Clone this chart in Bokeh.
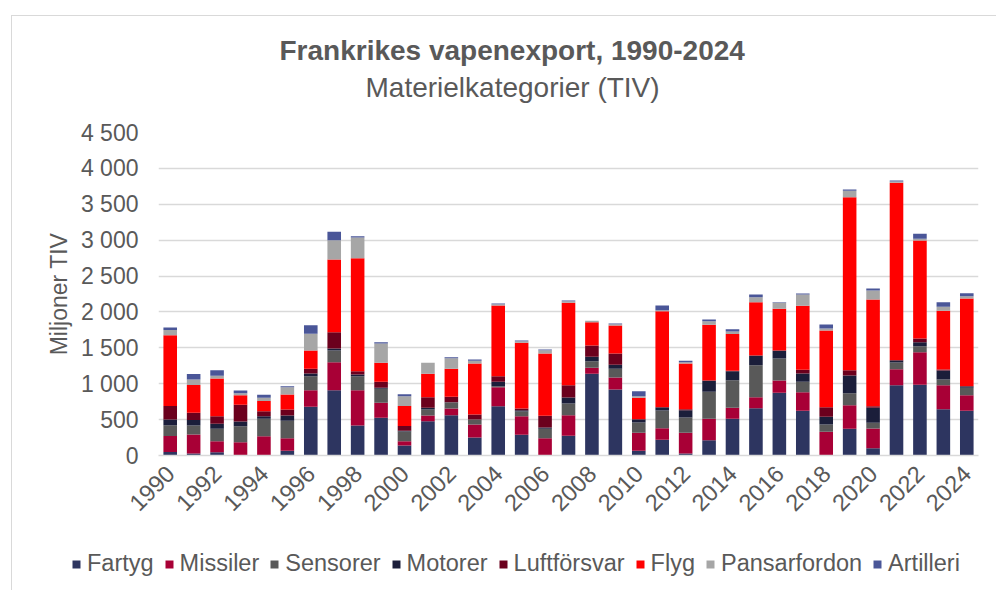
from bokeh.plotting import figure
from bokeh.layouts import column
from bokeh.models import ColumnDataSource, Legend, LegendItem, FixedTicker, Range1d, Title
from bokeh.embed import file_html
from bokeh.resources import INLINE
import math

years = list(range(1990, 2025))
fartyg = [50, 28, 46, 0, 0, 65, 678, 910, 418, 525, 139, 478, 561, 251, 687, 288, 0, 274, 1138, 919,
          65, 219, 28, 213, 511, 659, 873, 622, 0, 372, 102, 980, 984, 645, 622]
missiler = [220, 265, 154, 186, 269, 176, 232, 390, 492, 209, 61, 79, 94, 181, 264, 260, 241, 287, 84, 168,
            251, 162, 288, 298, 153, 153, 172, 260, 330, 329, 274, 223, 455, 335, 218]
sensorer = [150, 126, 172, 223, 242, 242, 195, 163, 195, 195, 135, 84, 83, 69, 14, 65, 131, 163, 92, 121,
            144, 246, 213, 376, 385, 446, 306, 145, 102, 167, 79, 93, 84, 79, 103]
motorer = [80, 74, 69, 65, 37, 74, 37, 28, 23, 14, 10, 23, 5, 0, 62, 18, 18, 84, 61, 55,
           46, 46, 102, 158, 126, 135, 112, 115, 107, 246, 209, 32, 55, 125, 22]
luftforsvar = [190, 102, 107, 232, 69, 84, 66, 227, 47, 84, 65, 148, 74, 70, 78, 24, 163, 172, 157, 158,
               0, 0, 14, 0, 5, 0, 0, 52, 134, 75, 23, 0, 52, 14, 0]
flyg = [985, 386, 525, 134, 144, 209, 255, 1012, 1574, 264, 278, 326, 391, 711, 985, 915, 868, 1147, 325, 390,
        297, 1338, 637, 776, 511, 743, 580, 891, 1068, 2409, 1486, 2471, 1365, 818, 1222]
pansarfordon = [75, 79, 37, 28, 42, 101, 232, 269, 288, 269, 139, 153, 147, 37, 18, 22, 46, 23, 19, 18,
                23, 13, 18, 50, 37, 69, 84, 158, 28, 89, 125, 18, 23, 55, 32]
artilleri = [33, 74, 79, 37, 42, 14, 120, 117, 18, 18, 28, 0, 15, 18, 9, 10, 9, 9, 0, 10,
             70, 66, 19, 23, 32, 38, 9, 14, 56, 18, 28, 14, 70, 65, 42]

series_names = ["Fartyg", "Missiler", "Sensorer", "Motorer", "Luftförsvar", "Flyg", "Pansarfordon", "Artilleri"]
series_keys = ["fartyg", "missiler", "sensorer", "motorer", "luftforsvar", "flyg", "pansarfordon", "artilleri"]
colors = ["#2d3560", "#a80036", "#595959", "#1b1e3a", "#6b001d", "#ff0000", "#a6a6a6", "#4a5698"]

y_ticks = [0, 500, 1000, 1500, 2000, 2500, 3000, 3500, 4000, 4500]
y_tick_labels = ["0", "500", "1 000", "1 500", "2 000", "2 500", "3 000", "3 500", "4 000", "4 500"]
x_ticks = list(range(1990, 2025, 2))

title_text = "Frankrikes vapenexport, 1990-2024"
subtitle_text = "Materielkategorier (TIV)"
y_title = "Miljoner TIV"

FONT = "Liberation Sans"
TXT = "#595959"

source = ColumnDataSource(dict(
    year=years, fartyg=fartyg, missiler=missiler, sensorer=sensorer, motorer=motorer,
    luftforsvar=luftforsvar, flyg=flyg, pansarfordon=pansarfordon, artilleri=artilleri))

p = figure(width=984, height=520, output_backend="svg", toolbar_location=None,
           x_range=Range1d(1989.5, 2024.5), y_range=Range1d(0, 4500),
           min_border_left=146, min_border_right=18, min_border_top=116, min_border_bottom=81)
p.frame_align = False
p.outline_line_color = None
p.background_fill_color = "white"
p.border_fill_color = "white"

renderers = p.vbar_stack(series_keys, x="year", width=0.58, source=source,
                         color=colors, line_color=None)

# axes
p.xaxis.ticker = FixedTicker(ticks=x_ticks)
p.xaxis.major_label_orientation = math.pi / 4
p.xaxis.major_tick_line_color = None
p.xaxis.major_tick_out = 0
p.xaxis.minor_tick_line_color = None
p.xaxis.minor_tick_out = 0
p.xaxis.axis_line_color = "#d9d9d9"
p.xaxis.axis_line_width = 1.5
p.xaxis.major_label_text_font = FONT
p.xaxis.major_label_text_font_size = "23.5px"
p.xaxis.major_label_text_color = TXT
p.xaxis.major_label_standoff = 14

p.yaxis.ticker = FixedTicker(ticks=y_ticks)
p.yaxis.major_label_overrides = {t: l for t, l in zip(y_ticks, y_tick_labels)}
p.yaxis.major_tick_line_color = None
p.yaxis.major_tick_out = 0
p.yaxis.minor_tick_line_color = None
p.yaxis.minor_tick_out = 0
p.yaxis.axis_line_color = None
p.yaxis.major_label_text_font = FONT
p.yaxis.major_label_text_font_size = "23px"
p.yaxis.major_label_text_color = TXT
p.yaxis.major_label_standoff = 20
p.yaxis.axis_label = y_title
p.yaxis.axis_label_text_font = FONT
p.yaxis.axis_label_text_font_size = "23px"
p.yaxis.axis_label_text_font_style = "normal"
p.yaxis.axis_label_text_color = TXT
p.yaxis.axis_label_standoff = 6

p.xgrid.grid_line_color = None
p.ygrid.grid_line_color = "#d9d9d9"
p.ygrid.grid_line_width = 1.5

# titles (added nearest-to-frame first): spacer, subtitle, main title
p.add_layout(Title(text=" ", align="left", standoff=15, text_font=FONT,
                   text_font_size="10px", text_color="white"), "above")
p.add_layout(Title(text=subtitle_text, align="left", offset=207, standoff=4,
                   text_font=FONT, text_font_size="28px", text_font_style="normal",
                   text_color=TXT), "above")
p.add_layout(Title(text=title_text, align="left", offset=121, standoff=4,
                   text_font=FONT, text_font_size="28px", text_font_style="bold",
                   text_color=TXT), "above")

# legend strip (separate figure so the legend is not clipped)
pl = figure(width=984, height=54, output_backend="svg", toolbar_location=None,
            x_range=Range1d(0, 984), y_range=Range1d(0, 54),
            x_axis_type=None, y_axis_type=None,
            min_border_left=0, min_border_right=0, min_border_top=0, min_border_bottom=0)
pl.frame_align = False
pl.outline_line_color = None
pl.grid.visible = False
pl.background_fill_color = "white"
pl.border_fill_color = "white"
leg_renderers = [pl.rect(x=[-100], y=[-100], width=1, height=1, fill_color=c, line_color=None)
                 for c in colors]

legend = Legend(items=[LegendItem(label=n, renderers=[r]) for n, r in zip(series_names, leg_renderers)],
                orientation="horizontal", location=(59, 13), padding=0, margin=0,
                spacing=10, label_standoff=6, glyph_width=10, glyph_height=10,
                label_text_font=FONT, label_text_font_size="23.5px", label_text_color=TXT,
                border_line_color=None, background_fill_alpha=0)
pl.add_layout(legend, "center")

layout = column(p, pl, spacing=0)
layout.margin = (15, 0, 0, 11)
layout.styles = {"border-left": "1px solid #d9d9d9", "border-top": "1px solid #d9d9d9"}

open("out.html", "w").write(file_html(layout, INLINE))
